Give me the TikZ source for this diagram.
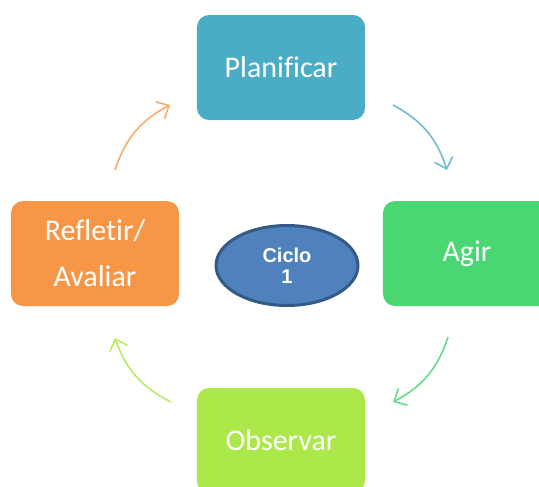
\documentclass[tikz,border=0pt]{standalone}
\usepackage{fontspec}
\setmainfont{Carlito}[Ligatures=NoCommon]
\newfontfamily\ciclofont{Liberation Sans}
\usepackage{tikz}
\usetikzlibrary{matrix,arrows.meta,shapes.geometric}

\definecolor{planC}{HTML}{4BACC6}
\definecolor{agirC}{HTML}{4AD672}
\definecolor{obsC}{HTML}{ADE84A}
\definecolor{reflC}{HTML}{F79646}
\definecolor{cicloC}{HTML}{4F81BD}
\definecolor{cicloB}{HTML}{345A86}

\tikzset{
  stage/.style={rectangle, rounded corners=12pt, minimum width=168pt, minimum height=105pt,
    text=white, align=center, font=\fontsize{30}{46}\selectfont},
  cycle/.style={->, line width=1.6pt, bend left=22,
    >={Straight Barb[length=10pt,width=19pt]}}
}

\begin{document}
\begin{tikzpicture}
 \useasboundingbox (0,0) rectangle (539pt,-487pt);
 \matrix (m) [row sep=81pt, column sep=18pt] at (281pt,-254pt)
  {
    & \node[stage, fill=planC] (plan) {Planificar}; & \\
    \node[stage, fill=reflC] (refl) {Refletir/\\Avaliar}; &
    \node[ellipse, draw=cicloB, line width=3pt, fill=cicloC, minimum width=142pt,
      minimum height=80pt, text=white, align=center, xshift=6pt, yshift=-12pt,
      font=\ciclofont\bfseries\fontsize{20}{21}\selectfont] (ciclo) {Ciclo\\1}; &
    \node[stage, fill=agirC] (agir) {Agir}; \\
    & \node[stage, fill=obsC] (obs) {Observar}; & \\
  };
 % free ends of the arrows
 \coordinate (p1) at (393pt,-105pt);
 \coordinate (a1) at (447pt,-170pt);
 \coordinate (p2) at (448pt,-337pt);
 \coordinate (a2) at (393pt,-402pt);
 \coordinate (p3) at (171pt,-402pt);
 \coordinate (a3) at (115pt,-338pt);
 \coordinate (p4) at (115pt,-170pt);
 \coordinate (a4) at (170pt,-105pt);
 \path[cycle]
  (p1) edge[draw=planC!80!white] (a1)
  (p2) edge[draw=agirC!85!white] (a2)
  (p3) edge[draw=obsC!85!white] (a3)
  (p4) edge[draw=reflC!80!white] (a4)
;
\end{tikzpicture}
\end{document}
